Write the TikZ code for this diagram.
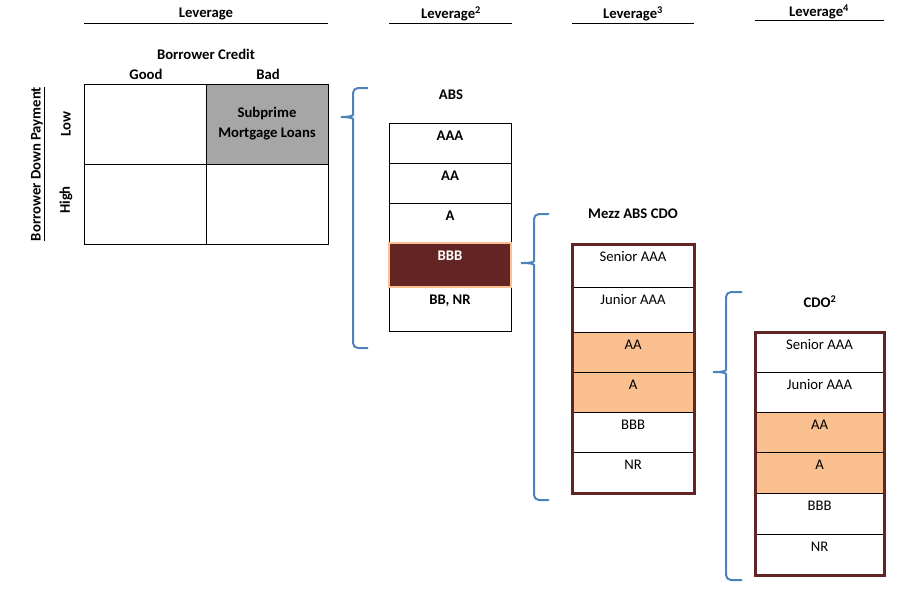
\documentclass[tikz,border=0pt]{standalone}
\usepackage{fontspec}
\setmainfont{Carlito}
\usepackage[HTML]{xcolor}
\usetikzlibrary{positioning}
\definecolor{braceblue}{HTML}{4F81BD}
\definecolor{maroon}{HTML}{632523}
\definecolor{peach}{HTML}{FAC090}
\definecolor{cellgray}{HTML}{A6A6A6}
\newcommand{\txtsize}{\fontsize{14.7}{20}\selectfont}
\begin{document}
\begin{tikzpicture}[x=1pt, y=-1pt,
  every node/.style={font=\txtsize, inner sep=0pt, outer sep=0pt},
  lbl/.style={font=\txtsize\bfseries},
  rule/.style={line width=0.9pt},
  cell/.style={draw, line width=0.9pt, minimum width=122pt, minimum height=80pt},
  tranche/.style={draw, line width=0.8pt, minimum width=122pt, inner ysep=2pt, text height=15pt, text depth=#1},
  frame/.style={draw=maroon, line width=3pt},
  curly/.style={braceblue, line width=2pt, rounded corners=5pt}]
\useasboundingbox (0,0) rectangle (900,597);
% Leverage headings
\node[lbl] (lev1) at (206,14) {Leverage};
\node[lbl] (lev2) at (451,14) {Leverage\textsuperscript{2}};
\node[lbl] (lev3) at (633,14) {Leverage\textsuperscript{3}};
\node[lbl] (lev4) at (819,12) {Leverage\textsuperscript{4}};
\draw[rule] (84,23) -- (328,23);
\draw[rule] (389,23) -- (512,23);
\draw[rule] (572,23) -- (694,23);
\draw[rule] (755,20) -- (884,20);
% Borrower grid
\node[lbl] (credit) at (206,54) {Borrower Credit};
\node[lbl] (good) at (146,74) {Good};
\node[lbl] (bad) at (268,74) {Bad};
\node[cell] (lowgood) at (145,124) {};
\node[cell, fill=cellgray, lbl, align=center, right=0pt of lowgood] (lowbad) {Subprime\\Mortgage Loans};
\node[cell, below=0pt of lowgood] (highgood) {};
\node[cell, below=0pt of lowbad] (highbad) {};
\node[lbl, rotate=90] (down) at (38,164) {\underline{Borrower Down Payment}};
\node[lbl, rotate=90] (low) at (66,124) {Low};
\node[lbl, rotate=90] (high) at (66,200) {High};
% ABS tranches
\node[lbl] (abs) at (451,95) {ABS};
\node[tranche=21pt, lbl, anchor=north] (abs1) at (450,123) {AAA};
\node[tranche=21pt, lbl, below=0pt of abs1] (abs2) {AA};
\node[tranche=21pt, lbl, below=0pt of abs2] (abs3) {A};
\node[tranche=25pt, lbl, below=0pt of abs3] (abs4) {};
\node[tranche=25pt, lbl, below=0pt of abs4] (abs5) {BB, NR};
\node[tranche=25pt, lbl, draw=peach, line width=2.5pt, fill=maroon, text=white] (bbb) at (abs4) {BBB};
% Mezz ABS CDO tranches
\node[lbl] (mezz) at (633,214) {Mezz ABS CDO};
\node[tranche=24pt, anchor=north] (mz1) at (633,244) {Senior AAA};
\node[tranche=26pt, below=0pt of mz1] (mz2) {Junior AAA};
\node[tranche=21pt, fill=peach, below=0pt of mz2] (mz3) {AA};
\node[tranche=21pt, fill=peach, below=0pt of mz3] (mz4) {A};
\node[tranche=21pt, below=0pt of mz4] (mz5) {BBB};
\node[tranche=22pt, below=0pt of mz5] (mz6) {NR};
\draw[frame] (mz1.north west) rectangle (mz6.south east);
% CDO squared tranches
\node[lbl] (cdo) at (820,302) {CDO\textsuperscript{2}};
\node[tranche=21pt, minimum width=129pt, anchor=north] (cd1) at (819.5,332) {Senior AAA};
\node[tranche=21pt, minimum width=129pt, below=0pt of cd1] (cd2) {Junior AAA};
\node[tranche=21pt, minimum width=129pt, fill=peach, below=0pt of cd2] (cd3) {AA};
\node[tranche=22pt, minimum width=129pt, fill=peach, below=0pt of cd3] (cd4) {A};
\node[tranche=22pt, minimum width=129pt, below=0pt of cd4] (cd5) {BBB};
\node[tranche=22pt, minimum width=129pt, below=0pt of cd5] (cd6) {NR};
\draw[frame] (cd1.north west) rectangle (cd6.south east);
% Braces
\draw[curly] (368,88) -- (353,88) -- (353,110) to[out=-90,in=0] (338,117) to[out=0,in=90] (353,124) -- (353,348) -- (368,348);
\draw[curly] (549,214) -- (534,214) -- (534,256) to[out=-90,in=0] (518,263) to[out=0,in=90] (534,270) -- (534,500) -- (549,500);
\draw[curly] (742,292) -- (726,292) -- (726,365) to[out=-90,in=0] (710,372) to[out=0,in=90] (726,379) -- (726,580) -- (742,580);
\end{tikzpicture}
\end{document}
